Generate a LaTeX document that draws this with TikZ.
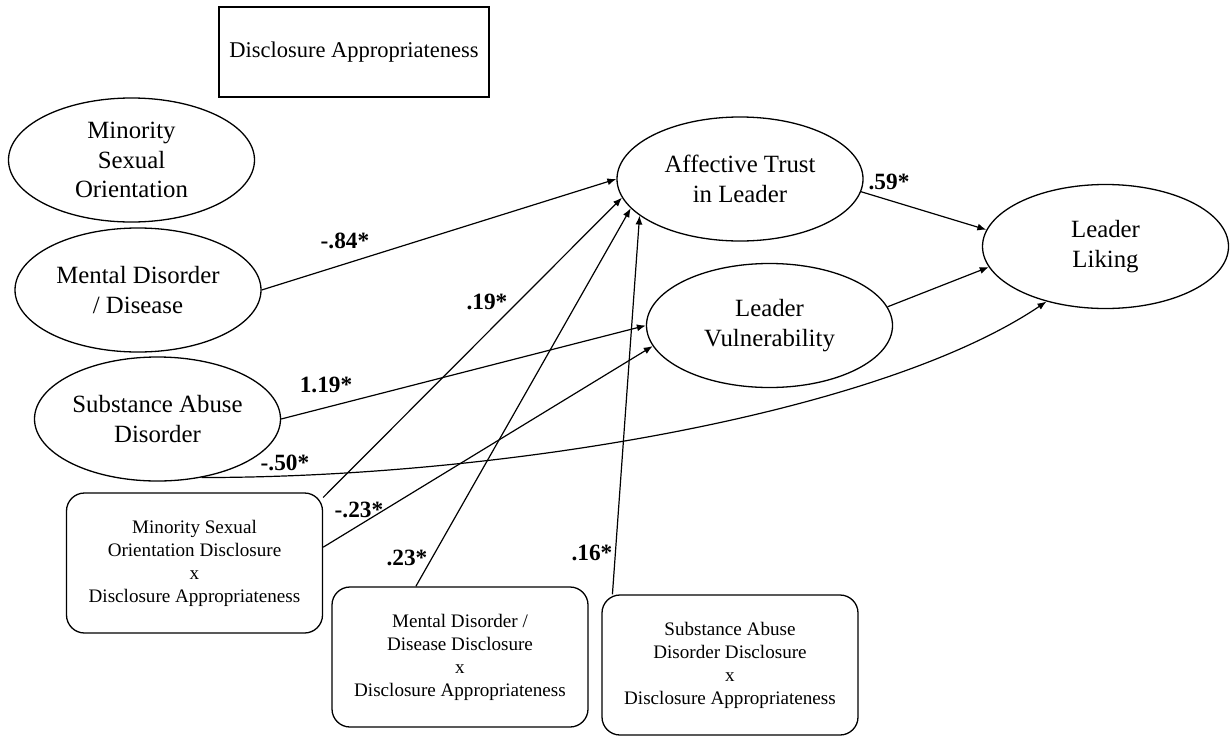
\documentclass[tikz,border=0pt]{standalone}
\usepackage{fontspec}
\setmainfont{Liberation Serif}
\usetikzlibrary{shapes.geometric, arrows.meta}
\tikzstyle{latent} = [draw, ellipse, line width=1.3pt, inner sep=0pt, minimum width=246pt, minimum height=124pt, align=center, font=\fontsize{24.8}{29.5}\selectfont]
\tikzstyle{inter} = [draw, rounded corners=18pt, line width=1.3pt, minimum width=256pt, minimum height=140pt, align=center, font=\fontsize{19.1}{23}\selectfont]
\tikzstyle{moder} = [draw, line width=1.3pt, minimum width=270pt, minimum height=90pt, font=\fontsize{22.5}{27}\selectfont]
\tikzstyle{coef} = [inner sep=0pt, font=\fontsize{23.3}{28}\selectfont\bfseries]
\tikzstyle{arr} = [-{Latex[length=9pt,width=7pt]}, line width=1.2pt]

\begin{document}
\begin{tikzpicture}[x=1pt, y=-1pt]
                \useasboundingbox (0,0) rectangle (1230,736);
                % moderator
                \node[moder] (da) at (354,52) {Disclosure Appropriateness};
                % disclosure types
                \node[latent] (mso) at (131.5,160) {Minority\\Sexual\\Orientation};
                \node[latent] (mdd) at (138,290) {Mental Disorder\\/ Disease};
                \node[latent] (sad) at (157.5,419) {Substance Abuse\\Disorder};
                % mediators and outcome
                \node[latent] (atl) at (740,179) {Affective Trust\\in Leader};
                \node[latent] (lv) at (769.5,325.5) {Leader\\Vulnerability};
                \node[latent] (ll) at (1105.5,246.5) {Leader\\Liking};
                % interaction terms
                \node[inter] (msod) at (194.5,563) {Minority Sexual\\Orientation Disclosure\\x\\Disclosure Appropriateness};
                \node[inter] (mddd) at (460,657) {Mental Disorder /\\Disease Disclosure\\x\\Disclosure Appropriateness};
                \node[inter] (sadd) at (730,665) {Substance Abuse\\Disorder Disclosure\\x\\Disclosure Appropriateness};

                \foreach \a/\b in {mdd.east/atl.west, msod.27/atl.189, msod.7/lv.190, mddd.122/atl.195, sadd.149/atl.200, sad.east/lv.west, atl.-6/ll.172, lv.9/ll.190}
                \draw[arr] (\a) -- (\b);
                \draw[arr] (sad.-53) .. controls +(300,0) and +(-166,112) .. (ll.-137);

                \foreach \x/\y/\t/\n in {345/241/-.84*/c1, 487/302/.19*/c2, 326/385/1.19*/c3, 285/463/-.50*/c4, 359/510/-.23*/c5, 407/558/.23*/c6, 592/553/.16*/c7, 889/182/.59*/c8}
                \node[coef] (\n) at (\x,\y) {\t};
            \end{tikzpicture}
\end{document}
